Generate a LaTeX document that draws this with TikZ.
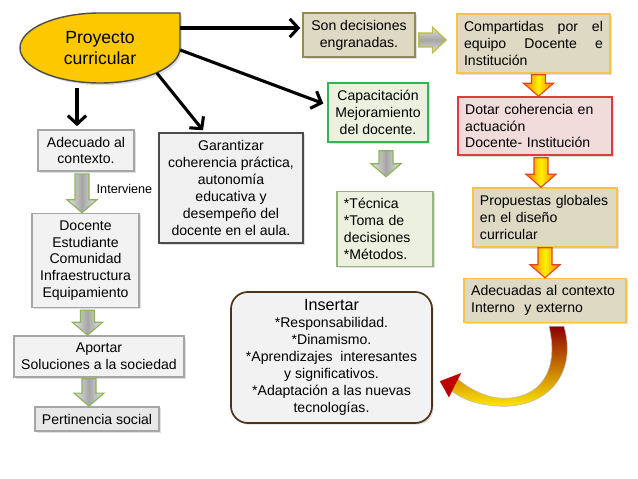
\documentclass[tikz,border=0pt]{standalone}
\usepackage{fontspec}
\setmainfont{Liberation Sans}
\usepackage{tikz}
\usetikzlibrary{calc,shapes.geometric,arrows.meta,shadows}
\hyphenpenalty=10000
\exhyphenpenalty=10000

\definecolor{elyellow}{RGB}{252,200,0}
\definecolor{tanfill}{RGB}{221,217,195}
\definecolor{tanline}{RGB}{148,138,84}
\definecolor{goldline}{RGB}{247,195,70}
\definecolor{pinkfill}{RGB}{242,220,219}
\definecolor{redline}{RGB}{220,60,60}
\definecolor{greenfill}{RGB}{235,241,222}
\definecolor{greenline}{RGB}{50,180,80}
\definecolor{sageline}{RGB}{150,180,130}
\definecolor{grayfill}{RGB}{242,242,242}
\definecolor{grayline}{RGB}{166,166,166}
\definecolor{arrgreen}{RGB}{140,180,90}
\definecolor{arrolive}{RGB}{190,190,60}
\definecolor{arrred}{RGB}{225,70,30}

\def\blockdown[#1](#2)(#3){\draw[#1] ($(#2)+(-7,0)$) -- ($(#2)+(7,0)$) -- ($(#2 |- #3)+(7,-13)$) -- ($(#2 |- #3)+(15,-13)$) -- (#2 |- #3) -- ($(#2 |- #3)+(-15,-13)$) -- ($(#2 |- #3)+(-7,-13)$) -- cycle;}
\def\blockright[#1](#2)(#3){\draw[#1] ($(#2)+(0,-7)$) -- ($(#2 -| #3)+(-14,-7)$) -- ($(#2 -| #3)+(-14,-13)$) -- (#2 -| #3) -- ($(#2 -| #3)+(-14,13)$) -- ($(#2 -| #3)+(-14,7)$) -- ($(#2)+(0,7)$) -- cycle;}

\tikzset{
	basebox/.style={draw, line width=1pt, inner sep=5pt, drop shadow={opacity=0.25, shadow xshift=1.2pt, shadow yshift=-1.2pt}},
	tanbox/.style={basebox, fill=tanfill, draw=goldline},
	graybox/.style={basebox, fill=grayfill, draw=grayline},
	greenbox/.style={basebox, fill=greenfill, draw=greenline},
	blackarr/.style={line width=2.2pt, -{Straight Barb[length=6pt,width=13pt]}},
	greenarr/.style={draw=arrgreen, line width=0.8pt, left color=gray!20, right color=gray!20, middle color=gray!70},
	orangearr/.style={draw=arrred, line width=0.8pt, left color=orange!90!red, right color=orange!90!red, middle color=yellow!90!orange},
	olivearr/.style={draw=arrolive, line width=0.8pt, top color=gray!25, bottom color=gray!25, middle color=gray!70},
	curvearr/.style={draw=gray!50, line width=0.4pt, top color=red!55!black, middle color=red, bottom color=yellow!85!orange}
}

\begin{document}
\begin{tikzpicture}[x=0.025cm, y=-0.025cm, font=\fontsize{10}{12}\selectfont]
	%%%%% START %%%%%
	\fill[white] (0,0) rectangle (638,479);
	\useasboundingbox (0,0) rectangle (638,479);

	% cut ellipse
	\draw[fill=elyellow, draw=gray!60!black, line width=1pt, drop shadow={opacity=0.25, shadow xshift=1.5pt, shadow yshift=-1.5pt}] (100,13) -- (180,13) -- (180,48) .. controls (180,67.3) and (144.2,83) .. (100,83) .. controls (55.8,83) and (20,67.3) .. (20,48) .. controls (20,28.7) and (55.8,13) .. (100,13) -- cycle;
	\node[ellipse, minimum width=4cm, minimum height=1.75cm, align=center, font=\fontsize{12.5}{14.5}\selectfont] (proy) at (100,48) {Proyecto\\curricular};

	% right column
	\node[tanbox, draw=tanline, minimum width=2.8cm, minimum height=1.05cm, align=center] (son) at (359,35) {Son decisiones\\engranadas.};
	\node[tanbox, text width=3.47cm, minimum height=1.475cm, align=justify] (comp) at (533.5,43.5) {Compartidas por el equipo Docente e Institución};
	\node[basebox, fill=pinkfill, draw=redline, text width=3.49cm, minimum height=1.45cm, align=left] (dotar) at (535,126) {Dotar coherencia en\\actuación\\Docente- Institución};
	\node[tanbox, text width=3.25cm, minimum height=1.475cm, align=left] (prop) at (545,217.5) {Propuestas globales\\en el diseño\\curricular};
	\node[tanbox, text width=3.69cm, minimum height=1.075cm, align=left] (adecint) at (545,300.5) {Adecuadas al contexto\\Interno\ \ y externo};

	% middle
	\node[greenbox, minimum width=2.5cm, minimum height=1.475cm, align=center] (cap) at (378,112.5) {Capacitación\\Mejoramiento\\del docente.};
	\node[greenbox, draw=sageline, text width=2.05cm, minimum height=1.85cm, align=left] (tec) at (385,229) {*Técnica\\{}*Toma de\\decisiones\\{}*Métodos.};
	\node[graybox, fill=gray!12, draw=gray!60!black, minimum width=3.6cm, minimum height=2.75cm, align=center] (gar) at (231,188) {Garantizar\\coherencia práctica,\\autonomía\\educativa y\\desempeño del\\docente en el aula.};
	\node[graybox, draw=brown!40!black, line width=1.2pt, rounded corners=12pt, minimum width=5.025cm, minimum height=3.275cm, align=center] (ins) at (331.5,357.5) {{\fontsize{11.5}{14}\selectfont Insertar}\\{}*Responsabilidad.\\{}*Dinamismo.\\{}*Aprendizajes\ \ interesantes\\y significativos.\\{}*Adaptación a las nuevas\\tecnologías.};

	% left column
	\node[graybox, minimum width=2.4cm, minimum height=1.025cm, align=center] (adec) at (86,150.5) {Adecuado al\\contexto.};
	\node[graybox, minimum width=2.675cm, minimum height=2.325cm, align=center] (dep) at (85.5,260.5) {Docente\\Estudiante\\Comunidad\\Infraestructura\\Equipamiento};
	\node[graybox, minimum width=4.1cm, minimum height=1.025cm, align=center] (aport) at (99,356.5) {Aportar\\Soluciones a la sociedad};
	\node[graybox, fill=gray!18, minimum width=3cm, minimum height=0.6cm] (pert) at (97,419) {Pertinencia social};
	\node[font=\fontsize{9}{11}\selectfont] (intv) at (124.5,189) {Interviene};

	% black arrows
	\draw[blackarr] ($(proy.east)+(0,-20)$) -- ($(son.west)+(-2,-7)$);
	\draw[blackarr] ($(proy.east)+(0,2)$) -- ($(cap.west)+(-4,-9)$);
	\draw[blackarr] (proy.south east) -- ($(gar.north)+(-28,-2)$);
	\draw[blackarr] ($(proy.south)+(-23,5)$) -- ($(adec.north)+(-9,-3)$);

	% block arrows
	\coordinate (sonr) at ($(son.east)+(3,5)$);
	\coordinate (compl) at ($(comp.west)+(-10,0)$);
	\blockright[olivearr](sonr)(compl);
	\coordinate (compb) at ($(comp.south)+(5,1)$);
	\blockdown[orangearr](compb)(dotar.north);
	\coordinate (dotarb) at ($(dotar.south)+(6,2)$);
	\blockdown[orangearr](dotarb)(prop.north);
	\blockdown[orangearr](prop.south)(adecint.north);
	\coordinate (capb) at ($(cap.south)+(8,8)$);
	\coordinate (tect) at ($(tec.north)+(0,-14)$);
	\blockdown[greenarr](capb)(tect);
	\coordinate (adecb) at ($(adec.south)+(-4,2)$);
	\blockdown[greenarr](adecb)(dep.north);
	\coordinate (depb) at ($(dep.south)+(2,2)$);
	\blockdown[greenarr](depb)(aport.north);
	\coordinate (aportb) at ($(aport.south)+(-10,1)$);
	\blockdown[greenarr](aportb)(pert.north);

	% curved arrow back to Insertar
	\begin{scope}[shift={(adecint.south)}]
		\draw[curvearr] (19,3) .. controls (33,53) and (0,85) .. (-45,83) .. controls (-67,82) and (-83,76) .. (-93,68) -- (-96,74) -- (-105,58) -- (-84,50) -- (-87,56) .. controls (-75,66) and (-60,74) .. (-43,75) .. controls (-7,76) and (15,50) .. (4,3) -- cycle;
		\fill[red!75!black] (-96,74) -- (-105,58) -- (-84,50) -- cycle;
	\end{scope}
	%%%%% END %%%%%
\end{tikzpicture}
\end{document}
